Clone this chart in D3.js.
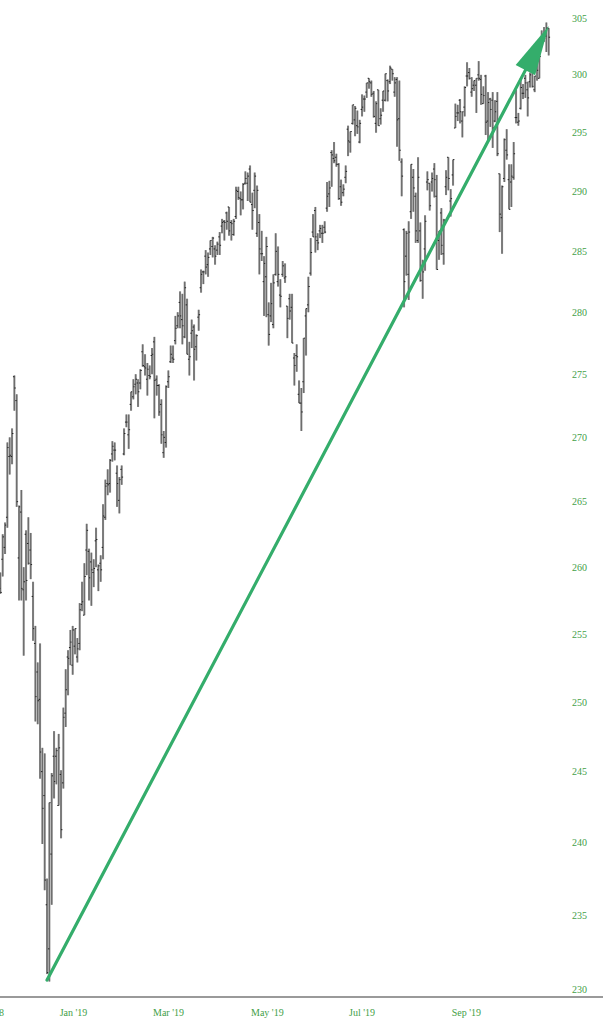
<!DOCTYPE html>
<html>
<head>
<meta charset="utf-8">
<script src="https://cdn.jsdelivr.net/npm/d3@7"></script>
<style>
  html, body { margin: 0; padding: 0; background: #fff; }
  svg { display: block; }
</style>
</head>
<body>
<div id="chart"></div>
<script>
// Trading days (Nov 2018 - Oct 2019), listed per month
const months = ['2018-11', '2018-12', '2019-01', '2019-02', '2019-03', '2019-04',
  '2019-05', '2019-06', '2019-07', '2019-08', '2019-09', '2019-10'];
const monthDays = [
  '01 02 05 06 07 08 09 12 13 14 15 16 19 20 21 23 26 27 28 29 30',
  '03 04 06 07 10 11 12 13 14 17 18 19 20 21 24 26 27 28 31',
  '02 03 04 07 08 09 10 11 14 15 16 17 18 22 23 24 25 28 29 30 31',
  '01 04 05 06 07 08 11 12 13 14 15 19 20 21 22 25 26 27 28',
  '01 04 05 06 07 08 11 12 13 14 15 18 19 20 21 22 25 26 27 28 29',
  '01 02 03 04 05 08 09 10 11 12 15 16 17 18 22 23 24 25 26 29 30',
  '01 02 03 06 07 08 09 10 13 14 15 16 17 20 21 22 23 24 28 29 30 31',
  '03 04 05 06 07 10 11 12 13 14 17 18 19 20 21 24 25 26 27 28',
  '01 02 03 05 08 09 10 11 12 15 16 17 18 19 22 23 24 25 26 29 30 31',
  '01 02 05 06 07 08 09 12 13 14 15 16 19 20 21 22 23 26 27 28 29 30',
  '03 04 05 06 09 10 11 12 13 16 17 18 19 20 23 24 25 26 27 30',
  '01 02 03 04 07 08 09 10 11 14 15 16 17 18 21 22 23 24 25 28 29 30 31',
];
const firstBarDate = '2018-11-21';

// OHLC values (dividend adjusted), one per trading day from firstBarDate
const opens = [
  260.7, 258.4, 260.6, 261.5, 263.8, 268.5, 268.5,
  274.8, 272.9, 260.7, 264.2, 258.3, 262.5, 261.8, 261.3, 257.8, 254.3, 252.2, 250.2, 245.0, 243.3, 235.7, 232.7, 239.2, 246.1, 246.1,
  242.6, 244.8, 244.2, 249.2, 253.3, 254.0, 252.7, 254.1, 253.3, 254.3, 257.2, 256.4, 261.3, 261.2, 260.4, 259.6, 262.0, 259.8, 260.3, 261.5, 263.8,
  266.4, 266.4, 268.7, 269.0, 267.2, 265.1, 267.5, 268.7, 271.2, 270.2, 272.6, 273.2, 274.2, 274.3, 274.3, 276.8, 275.6, 274.6, 274.9,
  276.5, 277.6, 274.6, 274.1, 272.6, 268.8, 269.6, 274.4, 276.0, 276.3, 277.7, 278.9, 280.8, 279.4, 278.0, 280.6, 276.2, 278.3, 278.8, 277.2, 279.6,
  282.0, 283.3, 284.6, 283.9, 285.2, 285.4, 285.2, 285.1, 286.2, 287.1, 287.5, 288.2, 288.7, 287.4, 286.4, 287.9, 290.0, 289.4, 289.3, 290.7, 290.7,
  291.9, 288.9, 290.1, 286.5, 287.4, 284.8, 282.5, 282.9, 279.8, 279.7, 279.0, 283.1, 282.5, 281.4, 283.1, 282.8, 280.5, 281.1, 280.4, 276.3, 276.5, 273.4,
  272.7, 274.4, 279.7, 280.6, 283.2, 286.6, 288.4, 285.9, 286.7, 286.5, 287.0, 288.6, 289.8, 293.3, 292.8, 292.9, 292.3, 290.4, 289.9, 291.2,
  295.3, 294.2, 295.8, 296.1, 295.6, 294.2, 297.0, 297.9, 298.5, 299.7, 299.3, 298.4, 295.8, 298.7, 296.2, 297.8, 297.8, 299.5, 299.4, 300.5, 298.5, 299.6,
  296.2, 292.5, 286.8, 284.6, 283.1, 288.3, 291.2, 289.6, 285.9, 286.7, 283.6, 285.2, 290.8, 290.7, 290.8, 291.9, 289.6, 285.9, 288.2, 284.8, 290.4, 292.9,
  289.2, 291.4, 295.4, 296.7, 297.8, 296.0, 297.2, 299.9, 300.2, 298.5, 299.1, 299.1, 300.0, 299.6, 297.5, 299.9, 296.0, 297.9, 297.8, 296.0,
  297.7, 291.5, 287.8, 291.1, 293.5, 291.0, 290.8, 291.2, 296.3, 295.9, 297.1, 298.4, 299.7, 298.7, 299.4, 300.6, 298.7, 300.9, 299.7, 302.9, 303.0, 303.4, 304.1,
];
const highs = [
  261.7, 259.6, 262.5, 263.4, 269.6, 270.0, 270.7,
  274.9, 273.4, 264.7, 265.9, 260.0, 262.8, 263.8, 262.6, 258.9, 255.6, 252.9, 254.3, 246.7, 246.3, 237.5, 242.8, 244.9, 247.9, 246.7,
  247.7, 245.1, 249.6, 252.4, 253.8, 255.3, 255.6, 255.4, 254.7, 257.3, 258.9, 260.3, 263.3, 261.4, 261.1, 260.6, 263.0, 260.2, 260.9, 264.8, 266.7,
  267.5, 268.3, 269.7, 269.6, 267.8, 266.9, 267.8, 270.7, 271.8, 271.8, 273.6, 274.6, 275.0, 274.6, 275.4, 277.4, 276.6, 275.9, 275.7,
  277.1, 278.0, 274.9, 274.2, 273.0, 270.5, 274.1, 275.3, 277.3, 277.3, 279.7, 280.0, 281.7, 281.5, 282.5, 281.1, 277.6, 279.4, 279.0, 278.2, 280.2,
  283.5, 283.4, 285.1, 284.9, 285.9, 286.2, 285.5, 285.8, 286.6, 287.7, 287.6, 288.3, 288.7, 287.6, 287.7, 290.4, 290.4, 290.0, 290.7, 291.7, 291.6,
  292.2, 289.9, 291.6, 290.5, 288.1, 286.7, 284.6, 286.2, 280.8, 282.4, 283.1, 286.5, 285.4, 282.7, 284.2, 284.0, 280.5, 281.5, 281.5, 276.7, 277.4, 274.5,
  273.9, 277.9, 280.3, 282.9, 286.1, 288.1, 288.7, 286.5, 287.2, 287.2, 287.5, 290.8, 290.9, 293.5, 294.2, 293.2, 292.4, 291.0, 290.6, 292.2,
  295.6, 295.1, 297.4, 297.3, 296.9, 296.1, 298.3, 298.2, 299.3, 299.7, 299.5, 298.6, 297.7, 298.7, 297.1, 298.6, 300.1, 299.6, 300.8, 300.5, 299.8, 299.8,
  299.5, 292.8, 286.9, 286.7, 287.5, 292.3, 291.9, 289.9, 292.9, 287.4, 284.3, 288.0, 291.7, 290.7, 291.6, 292.4, 291.4, 286.7, 288.6, 287.7, 291.8, 292.9,
  290.2, 292.7, 297.5, 297.4, 297.9, 296.8, 299.0, 301.1, 300.6, 299.8, 299.5, 299.7, 301.2, 300.0, 299.0, 300.0, 298.5, 298.0, 298.5, 297.8,
  298.5, 291.5, 290.5, 294.5, 295.3, 292.3, 292.3, 294.2, 298.7, 296.7, 299.7, 299.2, 300.0, 299.4, 300.2, 300.9, 299.9, 301.1, 302.2, 303.9, 304.2, 304.6, 304.1,
];
const lows = [
  259.6, 258.0, 259.3, 261.0, 263.0, 267.1, 267.9,
  272.1, 264.6, 257.5, 257.5, 253.4, 257.5, 260.2, 259.1, 254.5, 248.6, 248.4, 244.5, 239.9, 236.7, 231.0, 230.5, 235.7, 243.1, 244.1,
  242.6, 240.3, 243.8, 248.2, 250.5, 252.7, 252.0, 253.5, 252.9, 253.8, 256.7, 256.4, 259.4, 257.5, 257.1, 258.5, 260.0, 258.2, 258.9, 260.6, 263.6,
  265.5, 265.7, 268.1, 268.2, 264.6, 264.1, 266.3, 268.6, 270.8, 269.1, 272.1, 273.0, 273.4, 272.4, 273.8, 275.6, 274.9, 273.3, 274.6,
  275.0, 271.5, 273.3, 271.7, 269.5, 268.4, 269.2, 273.9, 275.9, 275.9, 277.4, 278.7, 278.7, 277.4, 277.9, 276.6, 274.9, 277.1, 274.5, 276.1, 278.5,
  281.6, 282.3, 283.1, 282.9, 284.7, 284.5, 283.9, 284.7, 284.7, 286.5, 285.9, 286.8, 286.3, 285.9, 286.3, 287.7, 289.3, 288.0, 288.5, 290.6, 289.2,
  289.1, 286.8, 288.6, 286.2, 283.1, 284.2, 279.7, 279.6, 277.3, 279.2, 278.7, 283.0, 282.1, 280.4, 282.9, 282.4, 277.9, 279.4, 277.5, 274.1, 275.2, 272.7,
  270.5, 273.5, 276.5, 280.0, 283.0, 286.2, 284.9, 285.1, 286.1, 285.7, 286.5, 288.3, 288.7, 290.4, 292.4, 292.1, 289.3, 288.8, 289.6, 290.7,
  293.0, 293.3, 295.7, 294.7, 294.9, 294.1, 296.4, 296.8, 298.0, 298.8, 298.1, 296.3, 295.0, 295.6, 295.7, 296.8, 297.7, 297.7, 299.2, 299.5, 298.1, 293.8,
  292.6, 289.6, 280.4, 283.0, 281.0, 287.7, 288.3, 285.7, 285.7, 282.5, 281.1, 283.4, 290.1, 288.4, 290.0, 289.5, 283.5, 284.3, 284.7, 283.9, 289.7, 290.1,
  287.9, 290.5, 295.4, 296.0, 295.8, 294.6, 296.4, 299.0, 299.6, 298.1, 298.6, 296.7, 299.5, 297.4, 297.5, 294.8, 294.3, 295.5, 293.7, 295.9,
  293.0, 286.6, 284.8, 290.8, 292.7, 288.5, 288.7, 291.0, 295.8, 295.6, 297.0, 297.9, 298.0, 296.4, 298.9, 298.9, 298.5, 299.5, 299.7, 302.9, 302.9, 302.0, 301.7,
];
const closes = [
  259.8, 258.1, 262.3, 263.2, 269.2, 268.6, 270.3,
  273.9, 265.0, 264.6, 258.4, 258.9, 259.0, 260.3, 260.2, 255.4, 250.4, 250.1, 246.4, 242.4, 237.4, 231.1, 242.8, 244.7, 244.3, 246.5,
  246.7, 240.9, 248.9, 250.9, 253.2, 254.4, 255.3, 255.4, 253.9, 256.8, 257.4, 259.3, 262.8, 259.2, 259.8, 259.9, 262.1, 260.1, 259.8, 263.9, 266.2,
  266.3, 268.2, 269.3, 269.0, 266.4, 266.7, 266.9, 270.3, 271.2, 270.6, 273.6, 274.0, 274.6, 273.6, 275.3, 275.7, 275.5, 275.4, 274.8,
  276.6, 274.5, 274.1, 272.0, 270.2, 270.0, 274.0, 274.8, 276.6, 276.2, 278.7, 279.7, 279.7, 278.9, 282.0, 276.6, 276.4, 278.5, 277.0, 278.1, 279.8,
  283.1, 283.3, 283.7, 284.5, 285.9, 286.1, 284.6, 285.6, 285.5, 287.4, 287.4, 287.5, 286.7, 287.3, 287.5, 290.1, 289.5, 289.3, 290.6, 291.1, 291.3,
  289.1, 288.4, 291.3, 290.1, 285.2, 284.8, 284.0, 285.4, 278.2, 280.7, 282.4, 285.0, 283.1, 281.3, 283.8, 282.9, 279.5, 280.1, 277.5, 275.7, 276.4, 272.7,
  272.0, 277.9, 280.3, 282.1, 284.9, 286.2, 286.2, 285.7, 286.9, 286.5, 286.6, 289.6, 290.3, 293.1, 292.6, 292.3, 289.4, 289.1, 290.2, 291.7,
  294.3, 295.1, 297.4, 297.1, 295.5, 295.8, 297.2, 297.9, 299.3, 299.4, 298.3, 296.4, 297.5, 295.6, 296.5, 298.6, 300.1, 298.6, 300.6, 300.1, 299.3, 296.1,
  293.5, 291.3, 282.5, 286.5, 286.6, 292.3, 290.3, 286.7, 291.2, 282.6, 283.3, 287.5, 291.0, 288.8, 291.1, 291.0, 283.5, 286.7, 285.5, 287.6, 291.2, 291.1,
  289.4, 292.7, 296.4, 296.7, 296.8, 296.8, 298.9, 299.9, 299.7, 298.8, 299.5, 299.7, 299.7, 298.3, 298.2, 295.9, 297.6, 297.0, 295.4, 296.8,
  293.2, 288.1, 290.4, 294.4, 293.1, 288.5, 291.3, 293.2, 296.3, 296.0, 298.9, 298.4, 299.3, 298.0, 300.0, 299.0, 299.9, 300.4, 301.6, 303.3, 303.2, 304.1, 303.3,
];

// Axis ticks
const priceTicks = [230, 235, 240, 245, 250, 255, 260, 265, 270, 275, 280, 285, 290, 295, 300, 305];
const monthTickDates = ['2018-11-01', '2019-01-02', '2019-03-01', '2019-05-01', '2019-07-01', '2019-09-03'];
const monthTickLabels = ["Nov '18", "Jan '19", "Mar '19", "May '19", "Jul '19", "Sep '19"];

// Trend arrow annotation: [date, price]
const arrowFrom = ['2018-12-24', 230.6];
const arrowTo = ['2019-10-31', 304.3];

const width = 610;
const height = 1024;

const dates = months.flatMap((m, i) => monthDays[i].split(' ').map((d) => `${m}-${d}`));
const start = dates.indexOf(firstBarDate);
const bars = opens.map((o, i) => ({
  i: start + i,
  o,
  h: highs[i],
  l: lows[i],
  c: closes[i],
}));

const x = d3
  .scaleLinear()
  .domain([dates.indexOf('2019-01-02'), dates.indexOf('2019-10-31')])
  .range([58.7, 548.7]);

const y = d3.scaleLog().domain([230, 305]).range([989, 18]);

const svg = d3
  .select('#chart')
  .append('svg')
  .attr('width', width)
  .attr('height', height)
  .attr('viewBox', `0 0 ${width} ${height}`);

svg
  .append('defs')
  .append('clipPath')
  .attr('id', 'plot-clip')
  .append('rect')
  .attr('x', 0)
  .attr('y', 0)
  .attr('width', 565)
  .attr('height', 996);

const plot = svg.append('g').attr('clip-path', 'url(#plot-clip)');

// OHLC bars: grey body with a darker core, open/close ticks
const bar = plot
  .selectAll('g.bar')
  .data(bars)
  .join('g')
  .attr('class', 'bar');

bar
  .append('line')
  .attr('x1', (d) => x(d.i))
  .attr('x2', (d) => x(d.i))
  .attr('y1', (d) => y(d.h))
  .attr('y2', (d) => y(d.l))
  .attr('stroke', '#939393')
  .attr('stroke-width', 2.1);

bar
  .append('line')
  .attr('x1', (d) => x(d.i))
  .attr('x2', (d) => x(d.i))
  .attr('y1', (d) => y(d.h))
  .attr('y2', (d) => y(d.l))
  .attr('stroke', '#555')
  .attr('stroke-width', 0.7);

bar
  .append('line')
  .attr('x1', (d) => x(d.i) - 1.4)
  .attr('x2', (d) => x(d.i))
  .attr('y1', (d) => y(d.o))
  .attr('y2', (d) => y(d.o))
  .attr('stroke', '#222')
  .attr('stroke-width', 1);

bar
  .append('line')
  .attr('x1', (d) => x(d.i))
  .attr('x2', (d) => x(d.i) + 1.4)
  .attr('y1', (d) => y(d.c))
  .attr('y2', (d) => y(d.c))
  .attr('stroke', '#222')
  .attr('stroke-width', 1);

// Bottom axis line
svg
  .append('line')
  .attr('x1', 0)
  .attr('x2', 603)
  .attr('y1', 997)
  .attr('y2', 997)
  .attr('stroke', '#9a9a9a')
  .attr('stroke-width', 2);

// Price labels on the right
svg
  .selectAll('text.price')
  .data(priceTicks)
  .join('text')
  .attr('class', 'price')
  .attr('x', 572)
  .attr('y', (d) => y(d))
  .attr('dy', '0.35em')
  .attr('font-family', 'Liberation Serif, serif')
  .attr('font-size', 10)
  .attr('fill', '#43a047')
  .text((d) => d);

// Month labels along the bottom; a label left of the chart edge is pulled in
// so that its tail still shows, as in the source chart
svg
  .selectAll('text.month')
  .data(monthTickDates)
  .join('text')
  .attr('class', 'month')
  .attr('y', 1016)
  .attr('font-family', 'Liberation Serif, serif')
  .attr('font-size', 10)
  .attr('fill', '#43a047')
  .text((d, i) => monthTickLabels[i])
  .attr('x', function (d) {
    const tx = x(dates.indexOf(d)) + 1;
    const w = this.getComputedTextLength();
    return tx < 0 ? Math.max(tx, 4 - w) : tx;
  });

// Trend arrow
const ax0 = x(dates.indexOf(arrowFrom[0]));
const ay0 = y(arrowFrom[1]);
const ax1 = x(dates.indexOf(arrowTo[0]));
const ay1 = y(arrowTo[1]);
const len = Math.hypot(ax1 - ax0, ay1 - ay0);
const ux = (ax1 - ax0) / len;
const uy = (ay1 - ay0) / len;
const headLen = 50;
const headHalf = 11;
const bx = ax1 - ux * headLen;
const by = ay1 - uy * headLen;
const green = '#34ad6b';

svg
  .append('line')
  .attr('x1', ax0)
  .attr('y1', ay0)
  .attr('x2', bx + ux * 4)
  .attr('y2', by + uy * 4)
  .attr('stroke', green)
  .attr('stroke-width', 3.2)
  .attr('stroke-linecap', 'round');

svg
  .append('path')
  .attr(
    'd',
    d3.line()([
      [ax1, ay1],
      [bx - uy * headHalf, by + ux * headHalf],
      [bx + uy * headHalf, by - ux * headHalf],
    ]) + 'Z'
  )
  .attr('fill', green);
</script>
</body>
</html>
